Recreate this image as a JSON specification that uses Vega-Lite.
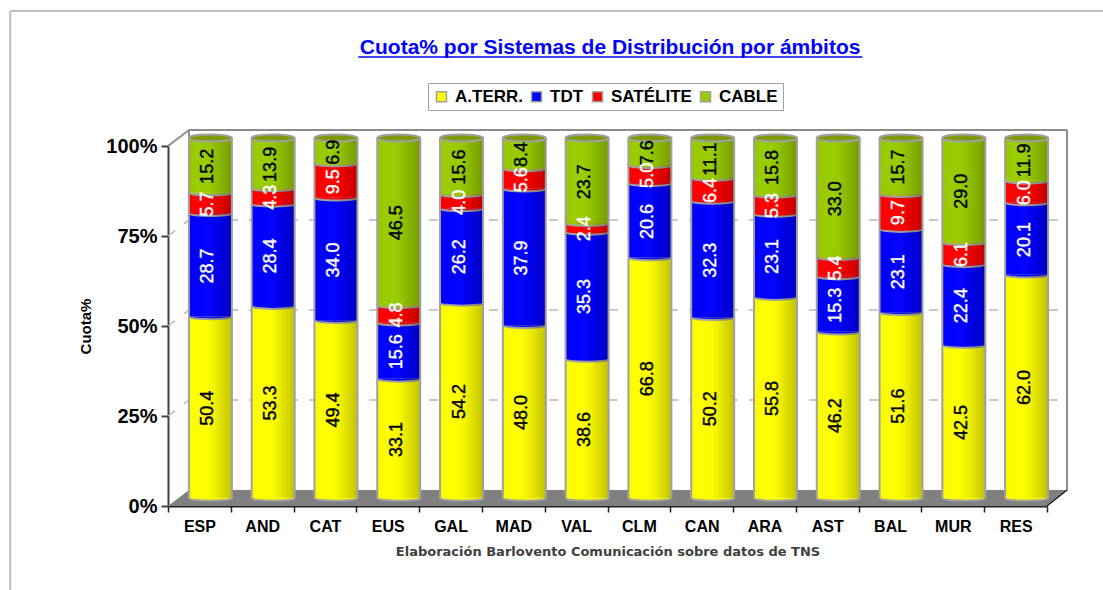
{
"$schema":"https://vega.github.io/schema/vega-lite/v6.json",
"width":879,"height":360,
"autosize":{"type":"none"},
"padding":{"left":168,"top":146,"right":56,"bottom":84},
"background":"white",
"data":{"name":"bars"},
"datasets":{
"bars":[
{"c":"ESP","s":"A.TERR.","o":1,"v":50.4},{"c":"ESP","s":"TDT","o":2,"v":28.7},{"c":"ESP","s":"SATÉLITE","o":3,"v":5.7},{"c":"ESP","s":"CABLE","o":4,"v":15.2},
{"c":"AND","s":"A.TERR.","o":1,"v":53.3},{"c":"AND","s":"TDT","o":2,"v":28.4},{"c":"AND","s":"SATÉLITE","o":3,"v":4.3},{"c":"AND","s":"CABLE","o":4,"v":13.9},
{"c":"CAT","s":"A.TERR.","o":1,"v":49.4},{"c":"CAT","s":"TDT","o":2,"v":34.0},{"c":"CAT","s":"SATÉLITE","o":3,"v":9.5},{"c":"CAT","s":"CABLE","o":4,"v":6.9},
{"c":"EUS","s":"A.TERR.","o":1,"v":33.1},{"c":"EUS","s":"TDT","o":2,"v":15.6},{"c":"EUS","s":"SATÉLITE","o":3,"v":4.8},{"c":"EUS","s":"CABLE","o":4,"v":46.5},
{"c":"GAL","s":"A.TERR.","o":1,"v":54.2},{"c":"GAL","s":"TDT","o":2,"v":26.2},{"c":"GAL","s":"SATÉLITE","o":3,"v":4.0},{"c":"GAL","s":"CABLE","o":4,"v":15.6},
{"c":"MAD","s":"A.TERR.","o":1,"v":48.0},{"c":"MAD","s":"TDT","o":2,"v":37.9},{"c":"MAD","s":"SATÉLITE","o":3,"v":5.6},{"c":"MAD","s":"CABLE","o":4,"v":8.4},
{"c":"VAL","s":"A.TERR.","o":1,"v":38.6},{"c":"VAL","s":"TDT","o":2,"v":35.3},{"c":"VAL","s":"SATÉLITE","o":3,"v":2.4},{"c":"VAL","s":"CABLE","o":4,"v":23.7},
{"c":"CLM","s":"A.TERR.","o":1,"v":66.8},{"c":"CLM","s":"TDT","o":2,"v":20.6},{"c":"CLM","s":"SATÉLITE","o":3,"v":5.0},{"c":"CLM","s":"CABLE","o":4,"v":7.6},
{"c":"CAN","s":"A.TERR.","o":1,"v":50.2},{"c":"CAN","s":"TDT","o":2,"v":32.3},{"c":"CAN","s":"SATÉLITE","o":3,"v":6.4},{"c":"CAN","s":"CABLE","o":4,"v":11.1},
{"c":"ARA","s":"A.TERR.","o":1,"v":55.8},{"c":"ARA","s":"TDT","o":2,"v":23.1},{"c":"ARA","s":"SATÉLITE","o":3,"v":5.3},{"c":"ARA","s":"CABLE","o":4,"v":15.8},
{"c":"AST","s":"A.TERR.","o":1,"v":46.2},{"c":"AST","s":"TDT","o":2,"v":15.3},{"c":"AST","s":"SATÉLITE","o":3,"v":5.4},{"c":"AST","s":"CABLE","o":4,"v":33.0},
{"c":"BAL","s":"A.TERR.","o":1,"v":51.6},{"c":"BAL","s":"TDT","o":2,"v":23.1},{"c":"BAL","s":"SATÉLITE","o":3,"v":9.7},{"c":"BAL","s":"CABLE","o":4,"v":15.7},
{"c":"MUR","s":"A.TERR.","o":1,"v":42.5},{"c":"MUR","s":"TDT","o":2,"v":22.4},{"c":"MUR","s":"SATÉLITE","o":3,"v":6.1},{"c":"MUR","s":"CABLE","o":4,"v":29.0},
{"c":"RES","s":"A.TERR.","o":1,"v":62.0},{"c":"RES","s":"TDT","o":2,"v":20.1},{"c":"RES","s":"SATÉLITE","o":3,"v":6.0},{"c":"RES","s":"CABLE","o":4,"v":11.9}
],
"floor":[{"f":0,"a":0,"b":0},{"f":0.0239,"a":0,"b":4.44},{"f":1,"a":0,"b":4.44},{"f":1.0228,"a":4.44,"b":4.44}],
"wall":[
{"f1":0.0239,"f2":1.0228,"y1":104.44,"y2":104.44},
{"f1":1.0228,"f2":1.0228,"y1":4.44,"y2":104.44},
{"f1":0.0239,"f2":0.0239,"y1":4.44,"y2":104.44},
{"f1":0,"f2":0.0239,"y1":100,"y2":104.44}
],
"edge":[{"f1":1,"f2":1.0228,"y1":0,"y2":4.44}],
"grid":[
{"f1":0.0239,"f2":1.0228,"y1":29.44,"y2":29.44},
{"f1":0.0239,"f2":1.0228,"y1":54.44,"y2":54.44},
{"f1":0.0239,"f2":1.0228,"y1":79.44,"y2":79.44},
{"f1":0,"f2":0.0239,"y1":25,"y2":29.44},
{"f1":0,"f2":0.0239,"y1":50,"y2":54.44},
{"f1":0,"f2":0.0239,"y1":75,"y2":79.44}
],
"frame":[
{"f1":-0.1795,"f2":-0.1795,"y1":-23.4,"y2":137.5},
{"f1":-0.1795,"f2":1.064,"y1":137.5,"y2":137.5}
],
"under":[{"f1":0.2165,"f2":0.79,"y1":124.7,"y2":124.7}],
"ttl":[{"f":0.503,"y":127.3,"t":"Cuota% por Sistemas de Distribución por ámbitos"}]
},
"config":{"view":{"stroke":null}},
"transform":[{"stack":"v","groupby":["c"],"sort":[{"field":"o","order":"ascending"}],"as":["y0","y1"]}],
"resolve":{"scale":{"x":"independent"},"axis":{"y":"independent"}},
"layer":[
{"data":{"name":"floor"},"transform":[],"mark":{"type":"area","color":"#808080"},"encoding":{"x":{"field":"f","type":"quantitative","scale":{"domain":[0,1],"nice":false,"zero":false},"axis":null},"y":{"field":"a","type":"quantitative","scale":{"domain":[0,100]},"axis":{"values":[0,25,50,75,100],"labelExpr":"datum.value+'%'","title":"Cuota%","titleFont":"Liberation Sans","titleFontSize":15,"titleFontWeight":"bold","titleColor":"black","titlePadding":12,"labelFont":"Liberation Sans","labelFontSize":20,"labelFontWeight":"bold","labelColor":"black","labelPadding":4,"grid":false,"domainColor":"#404040","domainWidth":2,"tickColor":"#404040","tickWidth":2,"tickSize":7}},"y2":{"field":"b"}}},
{"data":{"name":"frame"},"mark":{"type":"rule","color":"#c0c0c0","strokeWidth":2},"encoding":{"x":{"field":"f1","type":"quantitative","scale":{"domain":[0,1],"nice":false,"zero":false},"axis":null},"x2":{"field":"f2"},"y":{"field":"y1","type":"quantitative","axis":null},"y2":{"field":"y2"}}},
{"data":{"name":"grid"},"mark":{"type":"rule","color":"#b8b8b8","strokeWidth":1.5,"strokeDash":[9,11]},"encoding":{"x":{"field":"f1","type":"quantitative","scale":{"domain":[0,1],"nice":false,"zero":false},"axis":null},"x2":{"field":"f2"},"y":{"field":"y1","type":"quantitative","axis":null},"y2":{"field":"y2"}}},
{"data":{"name":"wall"},"mark":{"type":"rule","color":"#8c8c8c","strokeWidth":2},"encoding":{"x":{"field":"f1","type":"quantitative","scale":{"domain":[0,1],"nice":false,"zero":false},"axis":null},"x2":{"field":"f2"},"y":{"field":"y1","type":"quantitative","axis":null},"y2":{"field":"y2"}}},
{"data":{"name":"edge"},"mark":{"type":"rule","color":"#202020","strokeWidth":1.5},"encoding":{"x":{"field":"f1","type":"quantitative","scale":{"domain":[0,1],"nice":false,"zero":false},"axis":null},"x2":{"field":"f2"},"y":{"field":"y1","type":"quantitative","axis":null},"y2":{"field":"y2"}}},
{"data":{"name":"under"},"mark":{"type":"rule","color":"#0000ff","strokeWidth":1.5},"encoding":{"x":{"field":"f1","type":"quantitative","scale":{"domain":[0,1],"nice":false,"zero":false},"axis":null},"x2":{"field":"f2"},"y":{"field":"y1","type":"quantitative","axis":null},"y2":{"field":"y2"}}},
{"data":{"name":"ttl"},"mark":{"type":"text","font":"Liberation Sans","fontSize":21,"fontWeight":"bold","color":"#0000ff","align":"center","baseline":"middle"},"encoding":{"x":{"field":"f","type":"quantitative","scale":{"domain":[0,1],"nice":false,"zero":false},"axis":null},"y":{"field":"y","type":"quantitative","axis":null},"text":{"field":"t"}}},
{"mark":{"type":"bar","width":43,"xOffset":11,"yOffset":-8,"y2Offset":-8},"encoding":{
"x":{"field":"c","type":"nominal","sort":null,"scale":{"paddingInner":0,"paddingOuter":0},"axis":{"title":"Elaboración Barlovento Comunicación sobre datos de TNS","titleFont":"DejaVu Sans","titleFontSize":13,"titleFontWeight":"bold","titleColor":"#404040","titlePadding":11,"labelAngle":0,"labelFont":"Liberation Sans","labelFontSize":16,"labelFontWeight":"bold","labelColor":"black","labelPadding":6,"tickBand":"extent","domainColor":"#202020","domainWidth":2,"tickColor":"#202020","tickWidth":1.5,"tickSize":6}},
"y":{"field":"y0","type":"quantitative","axis":null},"y2":{"field":"y1"},
"color":{"field":"s","type":"nominal","sort":["A.TERR.","TDT","SATÉLITE","CABLE"],"scale":{"domain":["A.TERR.","TDT","SATÉLITE","CABLE"],"range":["#ffff00","#0000ff","#ff0000","#99cc00"]},
"legend":{"title":null,"orient":"none","legendX":260,"legendY":-63,"direction":"horizontal","symbolType":"square","symbolSize":100,"symbolStrokeColor":"#808080","symbolStrokeWidth":1.5,"fillColor":"white","strokeColor":"#a0a0a0","padding":5,"labelFont":"Liberation Sans","labelFontSize":17,"labelFontWeight":"bold","labelColor":"black","columnPadding":5,"labelOffset":5}}}},
{"mark":{"type":"point","filled":true,"shape":"M-1,0 A1,0.13 0 0 0 1,0","size":1849,"xOffset":11,"yOffset":-8,"stroke":"#a0a0a0","strokeWidth":2,"opacity":1},"encoding":{
"x":{"field":"c","type":"nominal","sort":null,"scale":{"paddingInner":0,"paddingOuter":0},"axis":null},
"y":{"field":"y0","type":"quantitative","axis":null},
"color":{"field":"s","type":"nominal"}}},
{"transform":[{"filter":"datum.o==1"}],"mark":{"type":"bar","width":43,"xOffset":11,"yOffset":-8,"y2Offset":-8,"fill":{"gradient":"linear","x1":0,"x2":1,"y1":0,"y2":0,"stops":[{"offset":0,"color":"rgba(0,0,0,0.02)"},{"offset":0.3,"color":"rgba(255,255,255,0)"},{"offset":0.6,"color":"rgba(0,0,0,0.06)"},{"offset":1,"color":"rgba(0,0,0,0.24)"}]}},"encoding":{
"x":{"field":"c","type":"nominal","sort":null,"scale":{"paddingInner":0,"paddingOuter":0},"axis":null},
"y":{"datum":0,"type":"quantitative","axis":null},"y2":{"datum":100}}},
{"transform":[{"filter":"datum.o==4"}],"mark":{"type":"rule","color":"#a0a0a0","strokeWidth":2,"xOffset":-10.5,"yOffset":-8,"y2Offset":-8},"encoding":{
"x":{"field":"c","type":"nominal","sort":null,"scale":{"paddingInner":0,"paddingOuter":0},"axis":null},
"y":{"datum":0,"type":"quantitative","axis":null},"y2":{"datum":100}}},
{"transform":[{"filter":"datum.o==4"}],"mark":{"type":"rule","color":"#a0a0a0","strokeWidth":2,"xOffset":32.5,"yOffset":-8,"y2Offset":-8},"encoding":{
"x":{"field":"c","type":"nominal","sort":null,"scale":{"paddingInner":0,"paddingOuter":0},"axis":null},
"y":{"datum":0,"type":"quantitative","axis":null},"y2":{"datum":100}}},
{"transform":[{"filter":"datum.o==4"}],"mark":{"type":"point","filled":true,"shape":"M-1,0 A1,0.16 0 0 1 1,0 A1,0.16 0 0 1 -1,0 Z","size":1849,"xOffset":11,"yOffset":-8,"fill":"#7f9a00","stroke":"#a0a0a0","strokeWidth":2,"opacity":1},"encoding":{
"x":{"field":"c","type":"nominal","sort":null,"scale":{"paddingInner":0,"paddingOuter":0},"axis":null},
"y":{"datum":100,"type":"quantitative","axis":null}}},
{"transform":[{"calculate":"datum.y0+(datum.y1-datum.y0)/2","as":"m"},{"calculate":"format(datum.v,'.1f')","as":"t"}],"mark":{"type":"text","angle":270,"font":"Liberation Sans","fontSize":18,"strokeWidth":0.4,"align":"center","baseline":"middle","xOffset":9,"yOffset":-7},"encoding":{
"x":{"field":"c","type":"nominal","sort":null,"scale":{"paddingInner":0,"paddingOuter":0},"axis":null},
"y":{"field":"m","type":"quantitative","axis":null},
"text":{"field":"t"},
"fill":{"condition":{"test":"datum.o==2||datum.o==3","value":"white"},"value":"black"},
"stroke":{"condition":{"test":"datum.o==2||datum.o==3","value":"white"},"value":"black"}}}
]
}
